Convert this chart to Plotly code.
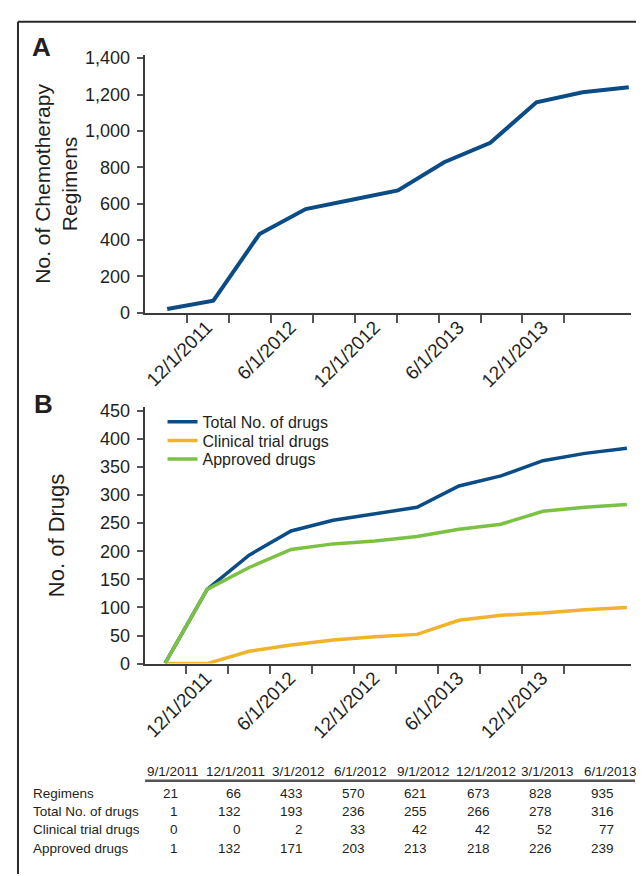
import plotly.graph_objects as go

# ---------------- data ----------------
regimens_dates = ["9/1/2011", "12/1/2011", "3/1/2012", "6/1/2012", "9/1/2012", "12/1/2012",
                  "3/1/2013", "6/1/2013", "9/1/2013", "12/1/2013", "3/1/2014"]
regimens = [21, 66, 433, 570, 621, 673, 828, 935, 1157, 1213, 1240]

drug_dates = ["9/1/2011", "12/1/2011", "3/1/2012", "6/1/2012", "9/1/2012", "12/1/2012",
              "3/1/2013", "6/1/2013", "9/1/2013", "12/1/2013", "3/1/2014", "6/1/2014"]
total_drugs = [1, 132, 193, 236, 255, 266, 278, 316, 334, 361, 374, 383]
clinical_drugs = [0, 0, 22, 33, 42, 48, 52, 77, 86, 90, 96, 100]
approved_drugs = [1, 132, 171, 203, 213, 218, 226, 239, 248, 271, 278, 283]

axis_tick_labels = ["", "12/1/2011", "", "6/1/2012", "", "12/1/2012", "", "6/1/2013", "", "12/1/2013"]

table_columns = ["9/1/2011", "12/1/2011", "3/1/2012", "6/1/2012", "9/1/2012", "12/1/2012", "3/1/2013", "6/1/2013"]
table_rows = ["Regimens", "Total No. of drugs", "Clinical trial drugs", "Approved drugs"]
table_regimens = [21, 66, 433, 570, 621, 673, 828, 935]
table_total = [1, 132, 193, 236, 255, 266, 278, 316]
table_clinical = [0, 0, 2, 33, 42, 42, 52, 77]
table_approved = [1, 132, 171, 203, 213, 218, 226, 239]

# ---------------- styling ----------------
W, H = 644, 876
BLUE = "#0b4c86"
YELLOW = "#f1b32c"
GREEN = "#7cc242"
TXT = "#231f20"
AX = "#3a3a3a"
FONT = "Liberation Sans, Arial, sans-serif"


def px(x):
    return x / W


def py(y):
    return 1 - y / H


fig = go.Figure()

xa = list(range(len(regimens)))
fig.add_trace(go.Scatter(x=xa, y=regimens, mode="lines", line=dict(color=BLUE, width=4),
                         showlegend=False, xaxis="x", yaxis="y", customdata=regimens_dates))

xb = list(range(len(total_drugs)))
series_b = [("Total No. of drugs", total_drugs, BLUE, "legend"),
            ("Clinical trial drugs", clinical_drugs, YELLOW, "legend2"),
            ("Approved drugs", approved_drugs, GREEN, "legend3")]
for name, vals, col, lg in series_b:
    fig.add_trace(go.Scatter(x=xb, y=vals, mode="lines", name=name, legend=lg,
                             line=dict(color=col, width=3.5), xaxis="x2", yaxis="y2",
                             customdata=drug_dates))

x_left, x_right = 135, 623
common_x = dict(showgrid=False, zeroline=False, showline=True, linecolor=AX, linewidth=2,
                ticks="outside", ticklen=8, tickwidth=1.5, tickcolor="#555",
                tickangle=-45, tickfont=dict(family=FONT, size=19, color=TXT),
                ticklabelshift=-22, ticklabelstandoff=-14,
                tickmode="array", domain=[px(x_left), px(x_right)])
common_y = dict(showgrid=False, zeroline=False, showline=True, linecolor=AX, linewidth=2,
                ticks="outside", ticklen=6, tickwidth=1.5, tickcolor="#555",
                tickfont=dict(family=FONT, size=18, color=TXT), ticklabelstandoff=3)

tick_a = [0.423 + 0.9093 * k for k in range(len(axis_tick_labels))]
tick_b = [0.5 + k for k in range(len(axis_tick_labels))]

legend_style = dict(xanchor="left", yanchor="middle", font=dict(family=FONT, size=16, color=TXT),
                    bgcolor="rgba(0,0,0,0)", borderwidth=0, itemwidth=30)

fig.update_layout(
    width=W, height=H, autosize=False,
    margin=dict(l=0, r=0, t=0, b=0),
    paper_bgcolor="white", plot_bgcolor="white",
    xaxis=dict(**common_x, range=[-0.49, 10.05], tickvals=tick_a, ticktext=axis_tick_labels, anchor="y"),
    yaxis=dict(**common_y, range=[0, 1420], dtick=200, tick0=0, tickformat=",d",
               domain=[py(304.3), py(41.3)], anchor="x"),
    xaxis2=dict(**common_x, range=[-0.49, 11.10], tickvals=tick_b, ticktext=axis_tick_labels, anchor="y2"),
    yaxis2=dict(**common_y, range=[0, 456], dtick=50, tick0=0,
                domain=[py(661.7), py(400.6)], anchor="x2"),
    legend=dict(x=px(153), y=py(415.5), **legend_style),
    legend2=dict(x=px(153), y=py(434.5), **legend_style),
    legend3=dict(x=px(153), y=py(453.5), **legend_style),
    showlegend=True,
)

ann = []
# panel letters
ann.append(dict(text="<b>A</b>", x=px(20), y=py(34), xanchor="left", yanchor="middle",
                font=dict(family=FONT, size=26, color=TXT)))
ann.append(dict(text="<b>B</b>", x=px(22), y=py(397), xanchor="left", yanchor="middle",
                font=dict(family=FONT, size=26, color=TXT)))
# axis titles
ann.append(dict(text="No. of Chemotherapy<br>Regimens", x=px(46), y=py(173), textangle=-90,
                xanchor="center", yanchor="middle", font=dict(family=FONT, size=21, color=TXT)))
ann.append(dict(text="No. of Drugs", x=px(46), y=py(531), textangle=-90,
                xanchor="center", yanchor="middle", font=dict(family=FONT, size=22, color=TXT)))

# table
TFS = 13.5
hdr_y = 771.7
row_ys = [794, 812.5, 831, 850]
for j, c in enumerate(table_columns):
    ann.append(dict(text=c, x=px(164 + 62.6 * j), y=py(hdr_y), xanchor="center", yanchor="middle",
                    font=dict(family=FONT, size=TFS, color=TXT)))
table_values = [table_regimens, table_total, table_clinical, table_approved]
for r, (name, vals) in enumerate(zip(table_rows, table_values)):
    ann.append(dict(text=name, x=px(21), y=py(row_ys[r]), xanchor="left", yanchor="middle",
                    font=dict(family=FONT, size=TFS, color=TXT)))
    for j, v in enumerate(vals):
        ann.append(dict(text=str(v), x=px(171 + 62.4 * j), y=py(row_ys[r]), xanchor="right",
                        yanchor="middle", font=dict(family=FONT, size=TFS, color=TXT)))
for a in ann:
    a.update(xref="paper", yref="paper", showarrow=False)

shapes = [
    dict(type="line", xref="paper", yref="paper", x0=px(135.5), x1=px(627), y0=py(781), y1=py(781),
         line=dict(color="#555", width=2.5)),
    dict(type="line", xref="paper", yref="paper", x0=px(8), x1=1, y0=py(8), y1=py(8),
         line=dict(color="#2a2a2a", width=2)),
    dict(type="line", xref="paper", yref="paper", x0=px(8), x1=px(8), y0=py(8), y1=0,
         line=dict(color="#2a2a2a", width=2)),
]
fig.update_layout(annotations=ann, shapes=shapes)

fig.write_html("out.html")
